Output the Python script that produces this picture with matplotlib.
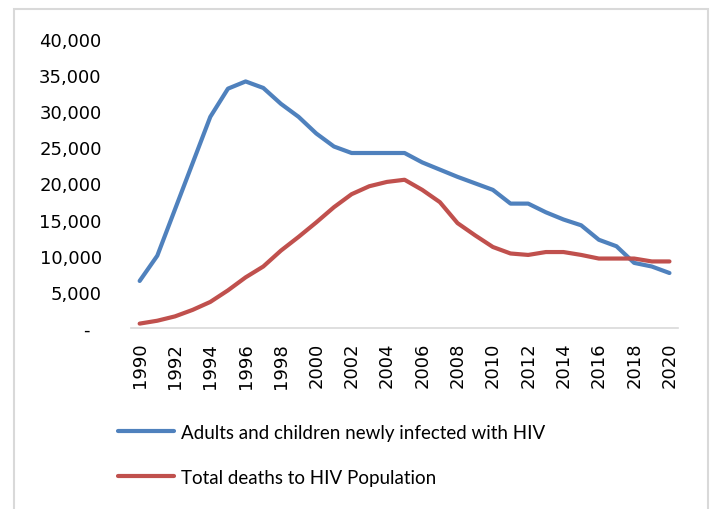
import matplotlib
matplotlib.use("Agg")
import matplotlib.pyplot as plt
from matplotlib.patches import Rectangle
from matplotlib.ticker import FuncFormatter

years = list(range(1990, 2021))
new_infections = [6500, 10000, 16400, 22800, 29200, 33100, 34100, 33200, 31000, 29200,
                  26900, 25100, 24200, 24200, 24200, 24200, 22900, 21900, 20900, 20000,
                  19100, 17200, 17200, 16000, 15000, 14200, 12200, 11300, 9000, 8500,
                  7600]
total_deaths = [600, 1000, 1600, 2500, 3600, 5200, 7000, 8500, 10700, 12600,
                14600, 16700, 18500, 19600, 20200, 20500, 19100, 17400, 14500, 12800,
                11200, 10300, 10100, 10500, 10500, 10100, 9600, 9600, 9600, 9200,
                9200]
series_names = ["Adults and children newly infected with HIV",
                "Total deaths to HIV Population"]
blue = "#4f81bd"
red = "#c0504d"

fig = plt.figure(figsize=(7.11, 5.10), dpi=100)
ax = fig.add_axes([0.184, 0.355, 0.770, 0.567])

ax.plot(years, new_infections, color=blue, lw=3.0, solid_capstyle="round",
        solid_joinstyle="round", label=series_names[0])
ax.plot(years, total_deaths, color=red, lw=3.0, solid_capstyle="round",
        solid_joinstyle="round", label=series_names[1])

ax.set_xlim(1989.5, 2020.5)
ax.set_ylim(0, 40000)
ax.set_yticks(range(0, 40001, 5000))
ax.set_xticks(years[::2])
ax.yaxis.set_major_formatter(FuncFormatter(lambda v, p: "-  " if v == 0 else f"{int(v):,}"))
ax.tick_params(axis="both", length=0, labelsize=13, colors="black")
ax.tick_params(axis="x", rotation=90, pad=10)
ax.tick_params(axis="y", pad=21)

for side in ["top", "right", "left"]:
    ax.spines[side].set_visible(False)
ax.spines["bottom"].set_color("#d9d9d9")
ax.spines["bottom"].set_linewidth(1.2)

# legend stacked under the year labels
leg = fig.legend(loc="upper left", bbox_to_anchor=(0.155, 0.182), frameon=False,
                 prop={"family": "Lato", "size": 13.5}, handlelength=3.0,
                 handletextpad=0.35, labelspacing=1.5, borderaxespad=0)

# light grey frame around the chart area
fig.patches.append(Rectangle((14 / 711, -0.05), 694 / 711, 1.05 - 10 / 510,
                             transform=fig.transFigure, fill=False,
                             edgecolor="#d9d9d9", lw=1.5))

fig.savefig("out.png", dpi=100)
